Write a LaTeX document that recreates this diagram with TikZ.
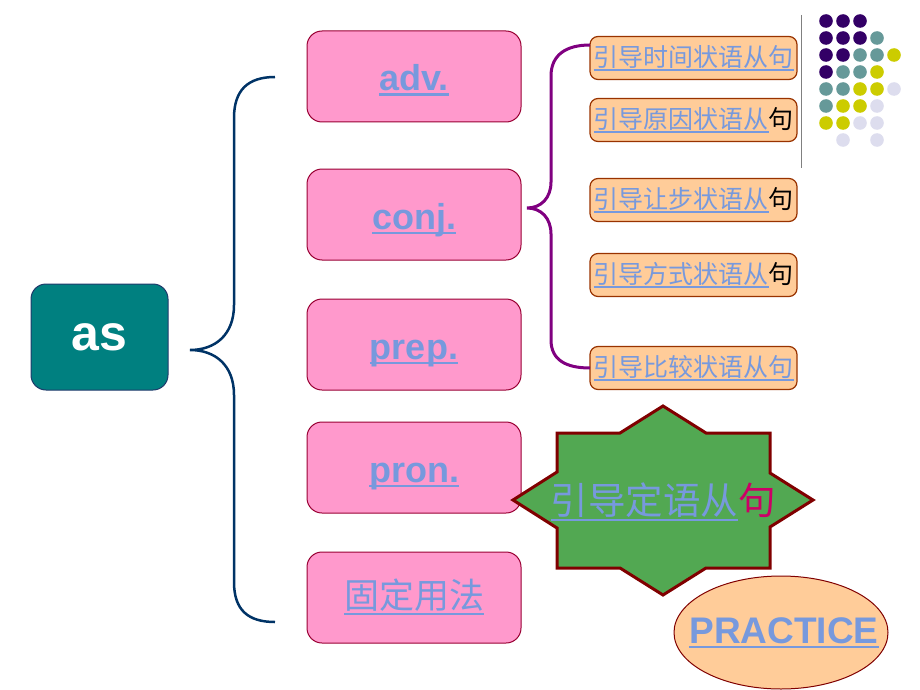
\documentclass[tikz,border=0pt]{standalone}
\usepackage{fontspec}
\setmainfont{Liberation Sans}
\newfontfamily\cjk{Noto Sans CJK SC}
\usetikzlibrary{shapes.geometric}
\definecolor{linkblue}{RGB}{119,153,221}
\definecolor{pinkfill}{RGB}{255,153,204}
\definecolor{pinkdraw}{RGB}{153,0,51}
\definecolor{orfill}{RGB}{255,204,153}
\definecolor{ordraw}{RGB}{153,51,0}
\definecolor{tealfill}{RGB}{0,128,128}
\definecolor{tealdraw}{RGB}{31,58,107}
\definecolor{navybrace}{RGB}{0,51,102}
\definecolor{purplebrace}{RGB}{128,0,128}
\definecolor{stargreen}{RGB}{82,168,82}
\definecolor{darkred}{RGB}{128,0,0}
\definecolor{crimson}{RGB}{204,0,102}
\definecolor{dP}{RGB}{51,0,102}
\definecolor{dT}{RGB}{102,153,153}
\definecolor{dY}{RGB}{204,204,0}
\definecolor{dL}{RGB}{221,221,238}
\newcommand\ulx[3]{\setbox0=\hbox{#3}\rlap{\raisebox{-#1}{\rule{\wd0}{#2}}}\box0}
\begin{document}
\begin{tikzpicture}[x=1pt,y=-1pt,
  pinkbox/.style={draw=pinkdraw, fill=pinkfill, rounded corners=15pt, minimum width=214pt, minimum height=91pt, line width=1pt, inner sep=0pt, text=linkblue, font=\fontsize{36}{40}\selectfont\bfseries, text height=29pt, text depth=0pt},
  orbox/.style={draw=ordraw, fill=orfill, rounded corners=8pt, minimum width=207pt, minimum height=43pt, line width=1.2pt, inner sep=0pt, text=linkblue, font=\cjk\fontsize{25}{28}\selectfont},
  asbox/.style={draw=tealdraw, fill=tealfill, rounded corners=15pt, minimum width=137pt, minimum height=106pt, line width=1pt, text=white, font=\fontsize{50}{54}\selectfont\bfseries},
  navyline/.style={draw=navybrace, line width=2.5pt},
  purpleline/.style={draw=purplebrace, line width=3pt},
  startshape/.style={fill=stargreen, draw=darkred, line width=3pt, line join=miter},
  dot/.style={radius=6.8pt}
]
\useasboundingbox (0,0) rectangle (920,690);

% main node
\node[asbox] (as) at (99.5,337) {as};

% pink boxes
\node[pinkbox] (adv) at (414,76.5) {\ulx{5pt}{2.5pt}{adv.}};
\node[pinkbox] (conj) at (414,214.5) {\ulx{5pt}{2.5pt}{conj.}};
\node[pinkbox] (prep) at (414,344.5) {\ulx{5pt}{2.5pt}{prep.}};
\node[pinkbox] (pron) at (414,467.5) {\ulx{5pt}{2.5pt}{pron.}};
\node[pinkbox, font=\cjk\fontsize{35}{40}\selectfont, text height=26pt, text depth=4pt] (gd) at (414,597.5) {\ulx{6pt}{2pt}{固定用法}};

% big navy brace
\coordinate (bt) at (190,350);
\coordinate (btop) at (275,77);
\coordinate (bbot) at (275,622);
\draw[navyline] (btop) .. controls (248,77) and (234,90) .. (234,118) -- (234,305)
  .. controls (234,335) and (215,350) .. (bt)
  .. controls (215,350) and (234,365) .. (234,395) -- (234,582)
  .. controls (234,610) and (248,622) .. (bbot);

% orange boxes
\node[orbox] (c1) at (693.5,58) {\ulx{4pt}{1.5pt}{引导时间状语从句}};
\node[orbox] (c2) at (693.5,120) {\ulx{4pt}{1.5pt}{引导原因状语从}{\color{black}句}};
\node[orbox] (c3) at (693.5,200) {\ulx{4pt}{1.5pt}{引导让步状语从}{\color{black}句}};
\node[orbox] (c4) at (693.5,275) {\ulx{4pt}{1.5pt}{引导方式状语从}{\color{black}句}};
\node[orbox] (c5) at (693.5,368) {\ulx{4pt}{1.5pt}{引导比较状语从句}};

% purple brace
\coordinate (pt) at (527,208);
\coordinate (ptop) at (590,45);
\coordinate (pbot) at (590,368);
\draw[purpleline] (ptop) .. controls (566,45) and (551,55) .. (551,76) -- (551,182)
  .. controls (551,198) and (541,208) .. (pt)
  .. controls (541,208) and (551,218) .. (551,234) -- (551,340)
  .. controls (551,360) and (566,368) .. (pbot);

% gray separator
\coordinate (gtop) at (801.5,15);
\coordinate (gbot) at (801.5,168);
\draw[gray, line width=1.5pt] (gtop) -- (gbot);

% dots
\foreach \x/\y/\cl in {826/21/dP,843/21/dP,860/21/dP,
  826/38/dP,843/38/dP,860/38/dP,877/38/dT,
  826/55/dP,843/55/dP,860/55/dT,877/55/dT,894/55/dY,
  826/72/dP,843/72/dT,860/72/dT,877/72/dY,
  826/89/dT,843/89/dT,860/89/dY,877/89/dY,894/89/dL,
  826/106/dT,843/106/dY,860/106/dY,877/106/dL,
  826/123/dY,843/123/dY,860/123/dL,877/123/dL,
  843/140/dL,877/140/dL}
  \fill[\cl] (\x,\y) circle[dot];

% star
\draw[startshape] (663,406) -- (706,433) -- (770,433) -- (770,473) -- (813,500) -- (770,527)
  -- (770,568) -- (706,568) -- (663,595) -- (620,568) -- (557,568) -- (557,528)
  -- (513,500) -- (557,472) -- (557,433) -- (620,433) -- cycle;
\node[text=linkblue, font=\cjk\fontsize{37.5}{40}\selectfont, inner sep=0pt] (star) at (663,502)
  {\ulx{6pt}{2pt}{引导定语从}{\color{crimson}句}};

% practice
\draw[draw=darkred, fill=orfill, line width=1pt] (781,632.5) ellipse[x radius=107, y radius=56.5];
\node[inner sep=0pt, text=linkblue, font=\fontsize{37}{40}\selectfont\bfseries] (practice) at (784,633) {\ulx{5pt}{2.5pt}{PRACTICE}};
\end{tikzpicture}
\end{document}
